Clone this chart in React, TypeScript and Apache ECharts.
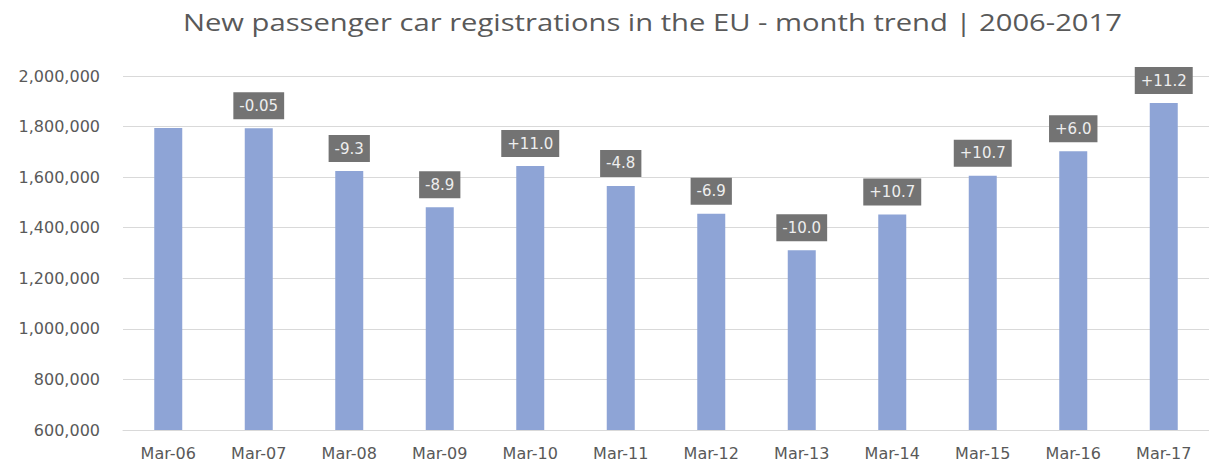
import React, { useEffect, useRef } from "react";
import * as echarts from "echarts";

const titleText = "New passenger car registrations in the EU - month trend | 2006-2017";
const categories = ["Mar-06", "Mar-07", "Mar-08", "Mar-09", "Mar-10", "Mar-11", "Mar-12", "Mar-13", "Mar-14", "Mar-15", "Mar-16", "Mar-17"];
const registrations = [1794000, 1793000, 1624000, 1481000, 1644000, 1565000, 1455000, 1311000, 1452000, 1606000, 1702000, 1893000];
const changeLabels = ["", "-0.05", "-9.3", "-8.9", "+11.0", "-4.8", "-6.9", "-10.0", "+10.7", "+10.7", "+6.0", "+11.2"];

export default function App() {
  const ref = useRef<HTMLDivElement>(null);
  useEffect(() => {
    if (!ref.current) return;
    const chart = echarts.init(ref.current, null, { renderer: "svg" });
    const font = "'DejaVu Sans', sans-serif";
    chart.setOption({
      animation: false,
      backgroundColor: "#ffffff",
      graphic: [
        {
          type: "text",
          x: 183,
          y: 11,
          scaleX: 1.27,
          style: {
            text: titleText,
            fontFamily: "'Open Sans', sans-serif",
            fontSize: 23,
            fill: "#595959",
          },
        },
      ],
      grid: { left: 123, top: 76, width: 1091, height: 354, containLabel: false },
      xAxis: {
        type: "category",
        data: categories,
        axisLine: { lineStyle: { color: "#d9d9d9" } },
        axisTick: { show: false },
        axisLabel: { color: "#595959", fontFamily: font, fontSize: 16, margin: 15 },
      },
      yAxis: {
        type: "value",
        min: 600000,
        max: 2000000,
        interval: 200000,
        axisLine: { show: false },
        axisTick: { show: false },
        splitLine: { lineStyle: { color: "#d9d9d9" } },
        axisLabel: {
          color: "#595959",
          fontFamily: font,
          fontSize: 16,
          margin: 23,
          formatter: (v: number) => v.toLocaleString("en-US"),
        },
      },
      series: [
        {
          type: "bar",
          data: registrations.map((v, i) => ({
            value: v,
            label: {
              show: changeLabels[i] !== "",
              formatter: changeLabels[i],
            },
          })),
          barWidth: 28,
          itemStyle: { color: "#8ea4d6" },
          label: {
            position: "top",
            distance: 9,
            color: "#eeeeee",
            fontFamily: font,
            fontSize: 15,
            lineHeight: 17,
            backgroundColor: "#737373",
            padding: [5, 6, 5, 6],
          },
        },
      ],
    });
    return () => chart.dispose();
  }, []);
  return <div ref={ref} style={{ position: "fixed", left: 0, top: 0, width: 1209, height: 467 }} />;
}
